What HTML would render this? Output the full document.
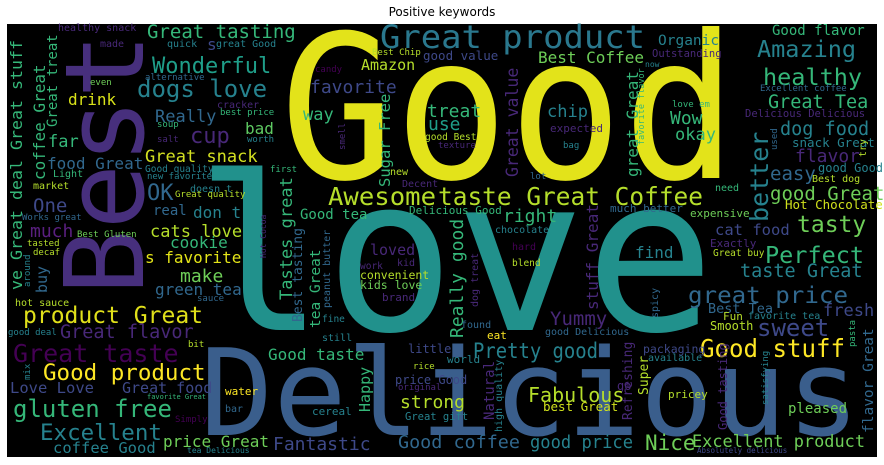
<!DOCTYPE html>
<html><head><meta charset="utf-8"><style>
html,body{margin:0;padding:0;background:#fff;}
svg{display:block;}
.w{font-family:"DejaVu Sans Mono","Liberation Mono",monospace;}
</style></head><body>
<svg width="884" height="465" viewBox="0 0 884 465" xmlns="http://www.w3.org/2000/svg">
<text x="442" y="16" text-anchor="middle" font-family="DejaVu Sans, Liberation Sans, sans-serif" font-size="12" fill="#000">Positive keywords</text>
<rect x="7" y="24" width="870" height="433" fill="#000"/>
<g class="w">
<!-- big words -->
<text x="280" y="178" font-size="200" fill="#e3e31a" textLength="457" lengthAdjust="spacingAndGlyphs">Good</text>
<text x="195" y="330" font-size="215" fill="#21918c" textLength="520" lengthAdjust="spacingAndGlyphs">love</text>
<text x="200" y="435" font-size="120" fill="#3a5e8c" textLength="660" lengthAdjust="spacingAndGlyphs">Delicious</text>
<text transform="translate(143,295) rotate(-90)" font-size="110" fill="#472f7d" textLength="262" lengthAdjust="spacingAndGlyphs">Best</text>
<text x="380" y="48" font-size="32" fill="#2a788e" textLength="265" lengthAdjust="spacingAndGlyphs">Great product</text>
<text x="328" y="205" font-size="25" fill="#b5de2b" textLength="108" lengthAdjust="spacingAndGlyphs">Awesome</text>
<text x="438" y="205" font-size="25" fill="#b5de2b" textLength="265" lengthAdjust="spacingAndGlyphs">taste Great Coffee</text>
<!-- left area -->
<text x="147" y="38" font-size="19" fill="#35b779">Great tasting</text>
<text x="58" y="31" font-size="10" fill="#482878">healthy snack</text>
<text x="152" y="73" font-size="22" fill="#1f9e89">Wonderful</text>
<text x="207" y="50" font-size="16" fill="#3e4989">s</text>
<text x="100" y="47" font-size="10" fill="#482878">made</text>
<text x="167" y="47" font-size="10" fill="#26828e">quick</text>
<text x="216" y="47" font-size="10" fill="#26828e">great Good</text>
<text x="137" y="97" font-size="24" fill="#26828e">dogs love</text>
<text x="145" y="80" font-size="9" fill="#31688e">alternative</text>
<text x="90" y="85" font-size="9" fill="#6ece58">even</text>
<text transform="translate(45,180) rotate(-90)" font-size="16" fill="#35b779">coffee Great</text>
<text transform="translate(57,127) rotate(-90)" font-size="14" fill="#35b779">Great treat</text>
<text transform="translate(22,290) rotate(-90)" font-size="16" fill="#35b779" textLength="250" lengthAdjust="spacingAndGlyphs">ve Great deal Great stuff</text>
<text x="68" y="105" font-size="16" fill="#d8e219">drink</text>
<text x="155" y="122" font-size="17" fill="#31688e">Really</text>
<text x="217" y="108" font-size="10" fill="#482878">cracker</text>
<text x="220" y="115" font-size="9" fill="#35b779">best price</text>
<text x="157" y="127" font-size="9" fill="#35b779">soup</text>
<text x="190" y="143" font-size="22" fill="#482878">cup</text>
<text x="245" y="134" font-size="16" fill="#5ec962">bad</text>
<text x="48" y="147" font-size="17" fill="#35b779">far</text>
<text x="157" y="142" font-size="9" fill="#482878">salt</text>
<text x="247" y="142" font-size="9" fill="#26828e">worth</text>
<text x="145" y="162" font-size="17" fill="#d3e021">Great snack</text>
<text x="47" y="169" font-size="16" fill="#31688e">food Great</text>
<text x="145" y="172" font-size="9.5" fill="#26828e">Good quality</text>
<text x="53" y="177" font-size="10" fill="#35b779">Light</text>
<text x="147" y="179" font-size="9" fill="#26828e">new favorite</text>
<text x="270" y="172" font-size="9" fill="#35b779">first</text>
<text x="33" y="189" font-size="10" fill="#b5de2b">market</text>
<text x="147" y="200" font-size="22" fill="#31688e">OK</text>
<text x="190" y="192" font-size="10" fill="#26828e">doesn t</text>
<text x="175" y="197" font-size="9" fill="#b5de2b">Great quality</text>
<text x="33" y="212" font-size="19" fill="#3e4989">One</text>
<text x="153" y="215" font-size="14" fill="#31688e">real</text>
<text x="193" y="218" font-size="16" fill="#26828e">don t</text>
<text x="22" y="220" font-size="9" fill="#31688e">Works great</text>
<text transform="translate(266,258) rotate(-90)" font-size="8" fill="#482878">Hot Cocoa</text>
<text x="30" y="237" font-size="18" fill="#5a1f80">much</text>
<text x="150" y="237" font-size="17" fill="#b5de2b">cats love</text>
<text x="77" y="237" font-size="9" fill="#6ece58">Best Gluten</text>
<text x="27" y="246" font-size="9" fill="#b5de2b">tasted</text>
<text x="33" y="255" font-size="9" fill="#b5de2b">decaf</text>
<text x="170" y="248" font-size="16" fill="#35b779">cookie</text>
<text x="145" y="263" font-size="16" fill="#e3e418">s favorite</text>
<text transform="translate(30,287) rotate(-90)" font-size="9" fill="#26828e">around</text>
<text transform="translate(47,293) rotate(-90)" font-size="15" fill="#31688e">buy</text>
<text x="180" y="282" font-size="18" fill="#6ece58">make</text>
<text x="155" y="295" font-size="16" fill="#31688e">green tea</text>
<text x="197" y="301" font-size="9" fill="#31688e">sauce</text>
<text transform="translate(292,300) rotate(-90)" font-size="17" fill="#35b779">Tastes great</text>
<text transform="translate(302,322) rotate(-90)" font-size="13" fill="#31688e">Best tasting</text>
<text x="15" y="306" font-size="10" fill="#b5de2b">hot sauce</text>
<text x="23" y="323" font-size="23" fill="#e0e01a">product Great</text>
<text x="8" y="335" font-size="9" fill="#26828e">good deal</text>
<text x="60" y="338" font-size="18.5" fill="#482878">Great flavor</text>
<text x="188" y="347" font-size="9" fill="#b5de2b">bit</text>
<text x="13" y="362" font-size="25" fill="#440154">Great taste</text>
<text x="43" y="380" font-size="22.5" fill="#fde725">Good product</text>
<text transform="translate(30,380) rotate(-90)" font-size="9" fill="#26828e">mix</text>
<text x="10" y="393" font-size="15.5" fill="#3e4989">Love Love</text>
<text x="122" y="393" font-size="15" fill="#3e4989">Great food</text>
<text x="225" y="395" font-size="11" fill="#fde725">water</text>
<text x="147" y="399" font-size="7" fill="#35b779">favorite Great</text>
<text x="13" y="417" font-size="24" fill="#35b779">gluten free</text>
<text x="225" y="412" font-size="10" fill="#31688e">bar</text>
<text x="175" y="422" font-size="9" fill="#440154">Simply</text>
<text x="40" y="440" font-size="22.5" fill="#26828e">Excellent</text>
<text x="163" y="447" font-size="16" fill="#6ece58">price Great</text>
<text x="273" y="450" font-size="18" fill="#3e4989">Fantastic</text>
<text x="53" y="453" font-size="15.5" fill="#26828e">coffee Good</text>
<text x="187" y="453" font-size="8" fill="#26828e">tea Delicious</text>
<!-- middle top -->
<text x="372" y="55" font-size="9" fill="#b5de2b">Best Chip</text>
<text x="423" y="60" font-size="12.5" fill="#3e4989">good value</text>
<text x="538" y="63" font-size="16" fill="#6ece58">Best Coffee</text>
<text x="361" y="70" font-size="15" fill="#b5de2b">Amazon</text>
<text x="315" y="72" font-size="9" fill="#440154">candy</text>
<text x="310" y="93" font-size="18" fill="#3e4989">favorite</text>
<text transform="translate(518,177) rotate(-90)" font-size="16.5" fill="#482878">Great value</text>
<text x="547" y="117" font-size="17" fill="#26828e">chip</text>
<text x="303" y="120" font-size="17" fill="#35b779">way</text>
<text x="427" y="117" font-size="18" fill="#35b779">treat</text>
<text x="428" y="130" font-size="18" fill="#1f9e89">use</text>
<text transform="translate(390,187) rotate(-90)" font-size="15.5" fill="#35b779">Sugar Free</text>
<text transform="translate(345,150) rotate(-90)" font-size="9" fill="#482878">smell</text>
<text x="550" y="132" font-size="11" fill="#482878">expected</text>
<text x="425" y="140" font-size="9.5" fill="#b5de2b">good Best</text>
<text x="438" y="148" font-size="9" fill="#482878">texture</text>
<text x="563" y="148" font-size="9" fill="#26828e">bag</text>
<text x="390" y="175" font-size="10" fill="#b5de2b">new</text>
<text x="530" y="179" font-size="9" fill="#31688e">lot</text>
<text x="402" y="187" font-size="10" fill="#482878">Decent</text>
<text x="300" y="219" font-size="14" fill="#35b779">Good tea</text>
<text x="409" y="214" font-size="11" fill="#35b779">Delicious Good</text>
<text x="503" y="222" font-size="18" fill="#35b779">right</text>
<text x="495" y="233" font-size="10" fill="#26828e">chocolate</text>
<text transform="translate(463,338) rotate(-90)" font-size="18" fill="#35b779">Really good</text>
<text transform="translate(598,310) rotate(-90)" font-size="16" fill="#482878">stuff Great</text>
<text transform="translate(638,177) rotate(-90)" font-size="16" fill="#35b779">great Great</text>
<text transform="translate(644,145) rotate(-90)" font-size="8.5" fill="#35b779">favorite flavor</text>
<!-- right top -->
<text x="658" y="45" font-size="14.5" fill="#26828e">Organic</text>
<text x="652" y="57" font-size="10.5" fill="#482878">Outstanding</text>
<text x="645" y="67" font-size="8" fill="#26828e">now</text>
<text x="772" y="35" font-size="14" fill="#35b779">Good flavor</text>
<text x="757" y="57" font-size="23.5" fill="#26828e">Amazing</text>
<text x="763" y="85" font-size="23.5" fill="#35b779">healthy</text>
<text x="760" y="91" font-size="9" fill="#31688e">Excellent coffee</text>
<text x="768" y="108" font-size="18.5" fill="#35b779">Great Tea</text>
<text x="672" y="107" font-size="9" fill="#35b779">love em</text>
<text x="745" y="117" font-size="10.5" fill="#482878">Delicious Delicious</text>
<text x="670" y="124" font-size="18" fill="#35b779">Wow</text>
<text x="675" y="140" font-size="17" fill="#35b779">okay</text>
<text x="780" y="135" font-size="18.5" fill="#26828e">dog food</text>
<text transform="translate(768,222) rotate(-90)" font-size="25" fill="#26828e">better</text>
<text transform="translate(777,150) rotate(-90)" font-size="9" fill="#31688e">used</text>
<text x="792" y="147" font-size="12.5" fill="#26828e">snack Great</text>
<text transform="translate(866,157) rotate(-90)" font-size="10" fill="#b5de2b">try</text>
<text x="795" y="162" font-size="18" fill="#482878">flavor</text>
<text x="818" y="172" font-size="12" fill="#26828e">good Good</text>
<text x="770" y="180" font-size="19" fill="#31688e">easy</text>
<text x="812" y="182" font-size="10" fill="#b5de2b">Best dog</text>
<text x="715" y="191" font-size="10" fill="#35b779">need</text>
<text x="770" y="200" font-size="19" fill="#6ece58">good Great</text>
<text x="785" y="209" font-size="12.5" fill="#d0e11c">Hot Chocolate</text>
<text x="610" y="212" font-size="11" fill="#31688e">much better</text>
<text x="690" y="217" font-size="11" fill="#6ece58">expensive</text>
<text x="797" y="232" font-size="23" fill="#6ece58">tasty</text>
<text x="715" y="235" font-size="15.5" fill="#3e4989">cat food</text>
<!-- right bottom -->
<text x="710" y="247" font-size="11" fill="#482878">Exactly</text>
<text x="635" y="258" font-size="16" fill="#26828e">find</text>
<text x="713" y="256" font-size="9.5" fill="#b5de2b">Great buy</text>
<text x="765" y="263" font-size="23.5" fill="#35b779">Perfect</text>
<text x="740" y="277" font-size="18.5" fill="#26828e">taste Great</text>
<text x="688" y="303" font-size="23" fill="#31688e" textLength="160" lengthAdjust="spacingAndGlyphs">great price</text>
<text x="708" y="313" font-size="13.5" fill="#31688e">Best Tea</text>
<text x="823" y="316" font-size="17" fill="#3e4989">fresh</text>
<text transform="translate(658,318) rotate(-90)" font-size="10" fill="#31688e">spicy</text>
<text x="723" y="320" font-size="11" fill="#b5de2b">Fun</text>
<text x="748" y="319" font-size="10" fill="#26828e">favorite tea</text>
<text x="550" y="325" font-size="19" fill="#482878">Yummy</text>
<text x="710" y="330" font-size="12" fill="#b5de2b">Smooth</text>
<text x="757" y="336" font-size="24" fill="#3e4989">sweet</text>
<text x="545" y="335" font-size="10" fill="#31688e">good Delicious</text>
<text transform="translate(855,347) rotate(-90)" font-size="9" fill="#35b779">pasta</text>
<text x="473" y="358" font-size="21" fill="#26828e" textLength="125" lengthAdjust="spacingAndGlyphs">Pretty good</text>
<text x="700" y="357" font-size="25" fill="#fde725" textLength="145" lengthAdjust="spacingAndGlyphs">Good stuff</text>
<text x="643" y="353" font-size="11.5" fill="#3e4989">packaging</text>
<text x="648" y="361" font-size="10" fill="#26828e">available</text>
<text transform="translate(632,420) rotate(-90)" font-size="13" fill="#482878">Refreshing</text>
<text transform="translate(648,395) rotate(-90)" font-size="13" fill="#b5de2b">Super</text>
<text transform="translate(727,430) rotate(-90)" font-size="12" fill="#482878">Good tasting</text>
<text x="617" y="390" font-size="12" fill="#482878">go</text>
<text transform="translate(768,405) rotate(-90)" font-size="9" fill="#26828e">satisfying</text>
<text x="668" y="398" font-size="11" fill="#b5de2b">pricey</text>
<text transform="translate(873,433) rotate(-90)" font-size="14.5" fill="#31688e">flavor Great</text>
<text x="788" y="413" font-size="14" fill="#6ece58">pleased</text>
<text x="645" y="450" font-size="21" fill="#6ece58">Nice</text>
<text x="692" y="447" font-size="17" fill="#6ece58" textLength="173" lengthAdjust="spacingAndGlyphs">Excellent product</text>
<text x="697" y="453" font-size="7.5" fill="#3e4989">Absolutely delicious</text>
<text x="530" y="448" font-size="18" fill="#26828e" textLength="103" lengthAdjust="spacingAndGlyphs">good price</text>
<text x="398" y="448" font-size="18" fill="#31688e" textLength="122" lengthAdjust="spacingAndGlyphs">Good coffee</text>
<!-- center bottom -->
<text x="512" y="250" font-size="10" fill="#440154">hard</text>
<text x="512" y="266" font-size="9.5" fill="#b5de2b">blend</text>
<text x="370" y="255" font-size="15" fill="#482878">loved</text>
<text x="397" y="266" font-size="10" fill="#482878">kid</text>
<text x="360" y="269" font-size="9.5" fill="#482878">work</text>
<text x="360" y="279" font-size="11.5" fill="#b5de2b">convenient</text>
<text x="360" y="289" font-size="11.5" fill="#6ece58">kids love</text>
<text x="382" y="301" font-size="11" fill="#482878">brand</text>
<text transform="translate(320,328) rotate(-90)" font-size="14.5" fill="#35b779">tea Great</text>
<text transform="translate(330,308) rotate(-90)" font-size="10" fill="#31688e">peanut butter</text>
<text transform="translate(478,307) rotate(-90)" font-size="10" fill="#482878">dog treat</text>
<text x="322" y="322" font-size="9.5" fill="#26828e">fine</text>
<text x="461" y="328" font-size="10" fill="#31688e">found</text>
<text x="322" y="341" font-size="10" fill="#26828e">still</text>
<text x="487" y="339" font-size="11" fill="#fde725">eat</text>
<text x="408" y="353" font-size="12" fill="#3e4989">little</text>
<text x="268" y="360" font-size="16" fill="#35b779">Good taste</text>
<text x="447" y="363" font-size="11" fill="#26828e">world</text>
<text x="413" y="369" font-size="9" fill="#b5de2b">rice</text>
<text transform="translate(502,432) rotate(-90)" font-size="10" fill="#26828e">high quality</text>
<text transform="translate(494,420) rotate(-90)" font-size="14" fill="#482878">Natural</text>
<text x="395" y="384" font-size="12" fill="#3e4989">price Good</text>
<text x="398" y="390" font-size="9" fill="#482878">original</text>
<text transform="translate(370,412) rotate(-90)" font-size="15" fill="#35b779">Happy</text>
<text x="528" y="402" font-size="20" fill="#b5de2b">Fabulous</text>
<text x="543" y="411" font-size="12.5" fill="#d0e11c">best Great</text>
<text x="400" y="408" font-size="18" fill="#b5de2b">strong</text>
<text x="312" y="415" font-size="11" fill="#26828e">cereal</text>
<text x="405" y="420" font-size="10.5" fill="#26828e">Great gift</text>
</g>
</svg>
</body></html>
